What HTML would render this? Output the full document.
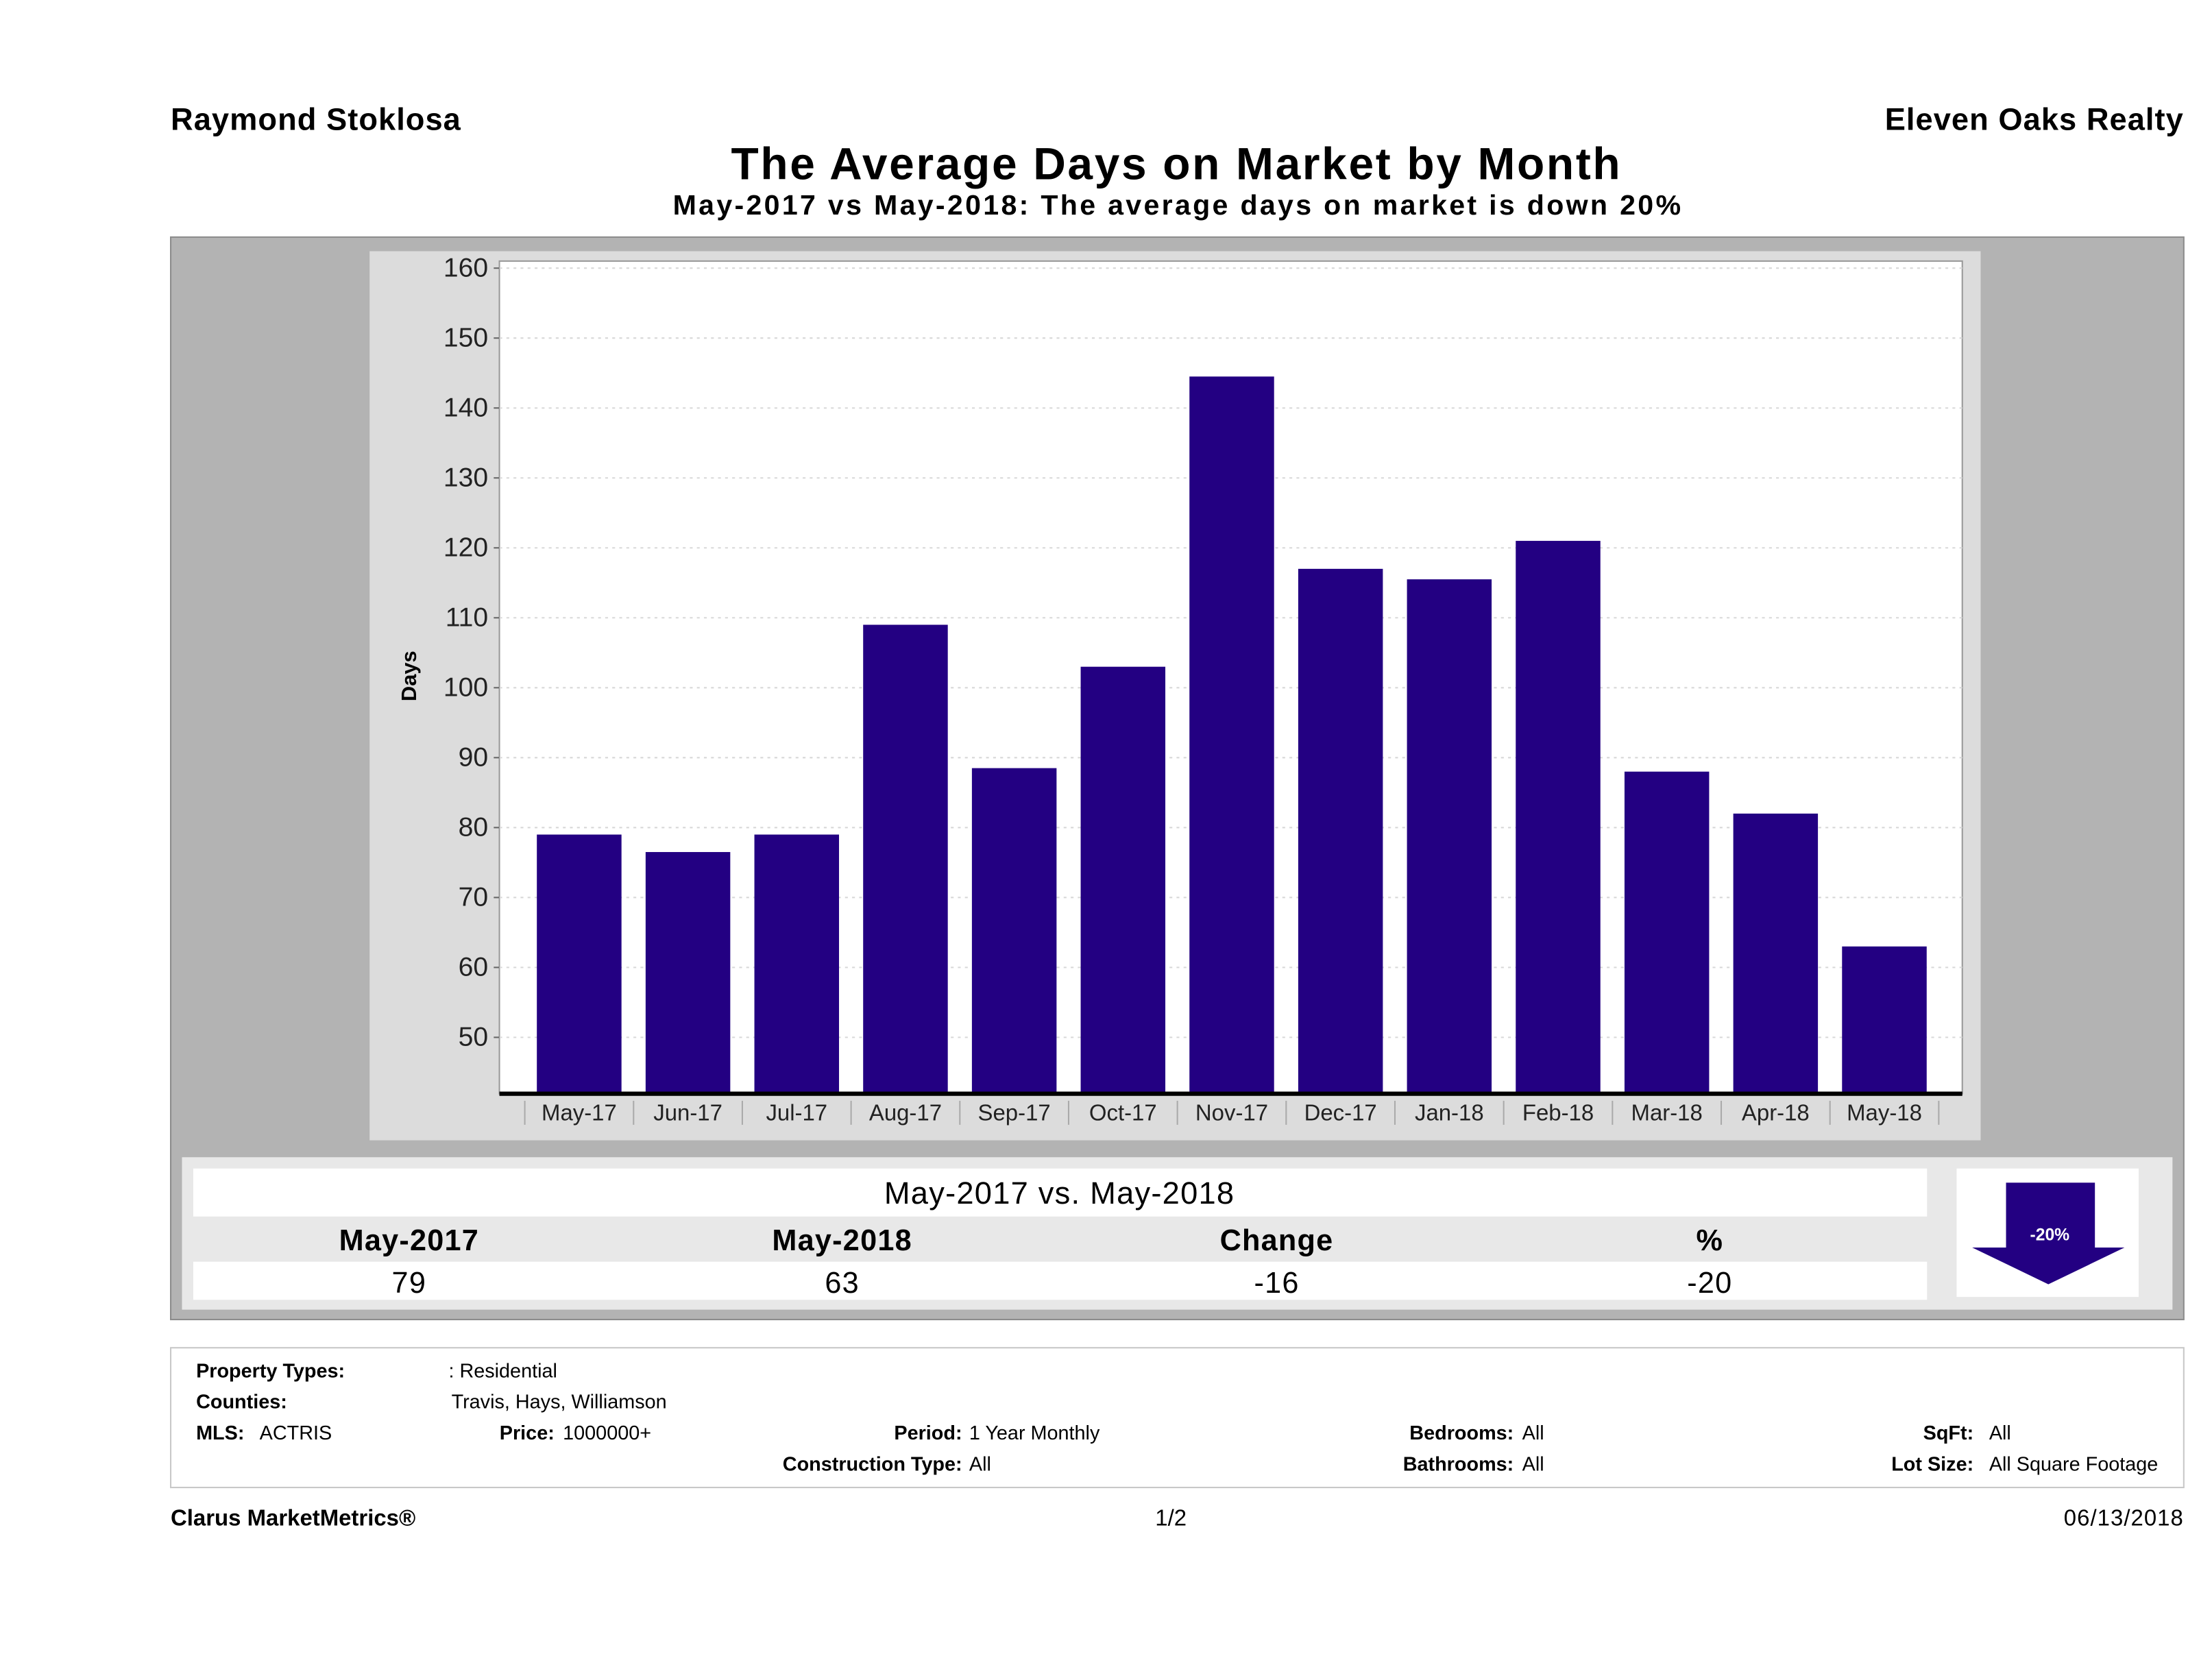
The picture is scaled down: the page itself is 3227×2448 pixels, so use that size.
<!DOCTYPE html>
<html><head><meta charset="utf-8"><style>
html,body{margin:0;padding:0;background:#fff;}
svg{display:block;font-family:"Liberation Sans",sans-serif;}
</style></head><body>
<svg id="page" width="3227" height="2448" viewBox="0 0 1568 1189" preserveAspectRatio="none" xmlns="http://www.w3.org/2000/svg">
<rect x="0" y="0" width="1568" height="1189" fill="#fff"/>
<text x="121" y="92" font-size="22" font-weight="bold" letter-spacing="0.5">Raymond Stoklosa</text>
<text x="1548" y="92" font-size="22" font-weight="bold" text-anchor="end" letter-spacing="0.5">Eleven Oaks Realty</text>
<text x="834" y="127" font-size="32" font-weight="bold" text-anchor="middle" letter-spacing="1.3">The Average Days on Market by Month</text>
<text x="835" y="152" font-size="20" font-weight="bold" text-anchor="middle" letter-spacing="1.6">May-2017 vs May-2018: The average days on market is down 20%</text>

<rect x="121" y="168" width="1427" height="767" fill="#b3b3b3" stroke="#8c8c8c" stroke-width="1"/>
<rect x="262" y="178" width="1142" height="630" fill="#dcdcdc"/>
<rect x="354" y="185" width="1037" height="590" fill="#fff" stroke="#999" stroke-width="1"/>
<g id="grid"></g>
<g id="yaxis"></g>
<g id="bars"></g>
<g id="xaxis"></g>
<text x="0" y="0" font-size="15" font-weight="bold" text-anchor="middle" transform="translate(295,479) rotate(-90)">Days</text>

<rect x="129" y="820" width="1411" height="108" fill="#e8e8e8"/>
<rect x="137" y="828" width="1229" height="34" fill="#fff"/>
<rect x="137" y="894" width="1229" height="27" fill="#fff"/>
<text x="751" y="853" font-size="22" text-anchor="middle" letter-spacing="0.6">May-2017 vs. May-2018</text>
<g font-size="21" text-anchor="middle" letter-spacing="0.6">
<text x="290" y="886" font-weight="bold">May-2017</text>
<text x="597" y="886" font-weight="bold">May-2018</text>
<text x="905" y="886" font-weight="bold">Change</text>
<text x="1212" y="886" font-weight="bold">%</text>
<text x="290" y="916">79</text>
<text x="597" y="916">63</text>
<text x="905" y="916">-16</text>
<text x="1212" y="916">-20</text>
</g>
<rect x="1387" y="828" width="129" height="91" fill="#fff"/>
<polygon points="1422,838 1485,838 1485,884 1506,884 1452,910 1398,884 1422,884" fill="#230082"/>
<text x="1453" y="879" font-size="12" font-weight="bold" fill="#fff" text-anchor="middle">-20%</text>

<rect x="121" y="955" width="1427" height="99" fill="#fff" stroke="#c8c8c8" stroke-width="1"/>
<g font-size="14">
<text x="139" y="976" font-weight="bold">Property Types:</text>
<text x="318" y="976">: Residential</text>
<text x="139" y="998" font-weight="bold">Counties:</text>
<text x="320" y="998">Travis, Hays, Williamson</text>
<text x="139" y="1020" font-weight="bold">MLS:</text>
<text x="184" y="1020">ACTRIS</text>
<text x="393" y="1020" font-weight="bold" text-anchor="end">Price:</text>
<text x="399" y="1020">1000000+</text>
<text x="682" y="1020" font-weight="bold" text-anchor="end">Period:</text>
<text x="687" y="1020">1 Year Monthly</text>
<text x="1073" y="1020" font-weight="bold" text-anchor="end">Bedrooms:</text>
<text x="1079" y="1020">All</text>
<text x="1399" y="1020" font-weight="bold" text-anchor="end">SqFt:</text>
<text x="1410" y="1020">All</text>
<text x="682" y="1042" font-weight="bold" text-anchor="end">Construction Type:</text>
<text x="687" y="1042">All</text>
<text x="1073" y="1042" font-weight="bold" text-anchor="end">Bathrooms:</text>
<text x="1079" y="1042">All</text>
<text x="1399" y="1042" font-weight="bold" text-anchor="end">Lot Size:</text>
<text x="1410" y="1042">All Square Footage</text>
</g>
<text x="121" y="1081" font-size="16" font-weight="bold">Clarus MarketMetrics®</text>
<text x="830" y="1081" font-size="16" text-anchor="middle">1/2</text>
<text x="1548" y="1081" font-size="16" text-anchor="end" letter-spacing="0.5">06/13/2018</text>
</svg>
<script>
const categories = ["May-17","Jun-17","Jul-17","Aug-17","Sep-17","Oct-17","Nov-17","Dec-17","Jan-18","Feb-18","Mar-18","Apr-18","May-18"];
const daysValues = [79,76.5,79,109,88.5,103,144.5,117,115.5,121,88,82,63];
const yTicks = [50,60,70,80,90,100,110,120,130,140,150,160];

const NS = "http://www.w3.org/2000/svg";
const plotL = 354, plotR = 1391, axisY = 775;
const yTop = 160, yTopPx = 190, pxPer = 4.955;
function yScale(v){ return yTopPx + (yTop - v) * pxPer; }
const catStart = 372, catW = 77.1;
function xCenter(i){ return catStart + catW * (i + 0.5); }
function mk(tag, attrs, parent){ const e=document.createElementNS(NS,tag); for(const k in attrs) e.setAttribute(k,attrs[k]); parent.appendChild(e); return e; }

const grid = document.getElementById('grid');
const yaxis = document.getElementById('yaxis');
yTicks.forEach(t=>{
  const y = yScale(t);
  const g = mk('line',{x1:plotL,x2:plotR,y1:y,y2:y,stroke:'#d8d8d8','stroke-dasharray':'2,3','stroke-width':1},grid);
  
  
  const tk = mk('line',{x1:plotL-4,x2:plotL,y1:y,y2:y,stroke:'#666','stroke-width':1},yaxis);
  
  
  const lb = mk('text',{x:plotL-8,y:y+6,'font-size':19,'text-anchor':'end',fill:'#222'},yaxis);
  
  
  lb.textContent = t;
});

const bars = document.getElementById('bars');
const barW = 60;
daysValues.forEach((v,i)=>{
  const y = yScale(v);
  const r = mk('rect',{x:xCenter(i)-barW/2,y:y,width:barW,height:axisY-y,fill:'#230082'},bars);
  
  
});

const xaxis = document.getElementById('xaxis');
const al = mk('line',{x1:plotL,x2:plotR,y1:axisY,y2:axisY,stroke:'#000','stroke-width':3},xaxis);


for(let i=0;i<=categories.length;i++){
  const x = catStart + catW*i;
  const s = mk('line',{x1:x,x2:x,y1:780,y2:797,stroke:'#aaa','stroke-width':1},xaxis);
  
  
}
categories.forEach((c,i)=>{
  const t = mk('text',{x:xCenter(i),y:794,'font-size':16,'text-anchor':'middle',fill:'#222'},xaxis);
  
  
  t.textContent = c;
});
</script>
</body></html>
